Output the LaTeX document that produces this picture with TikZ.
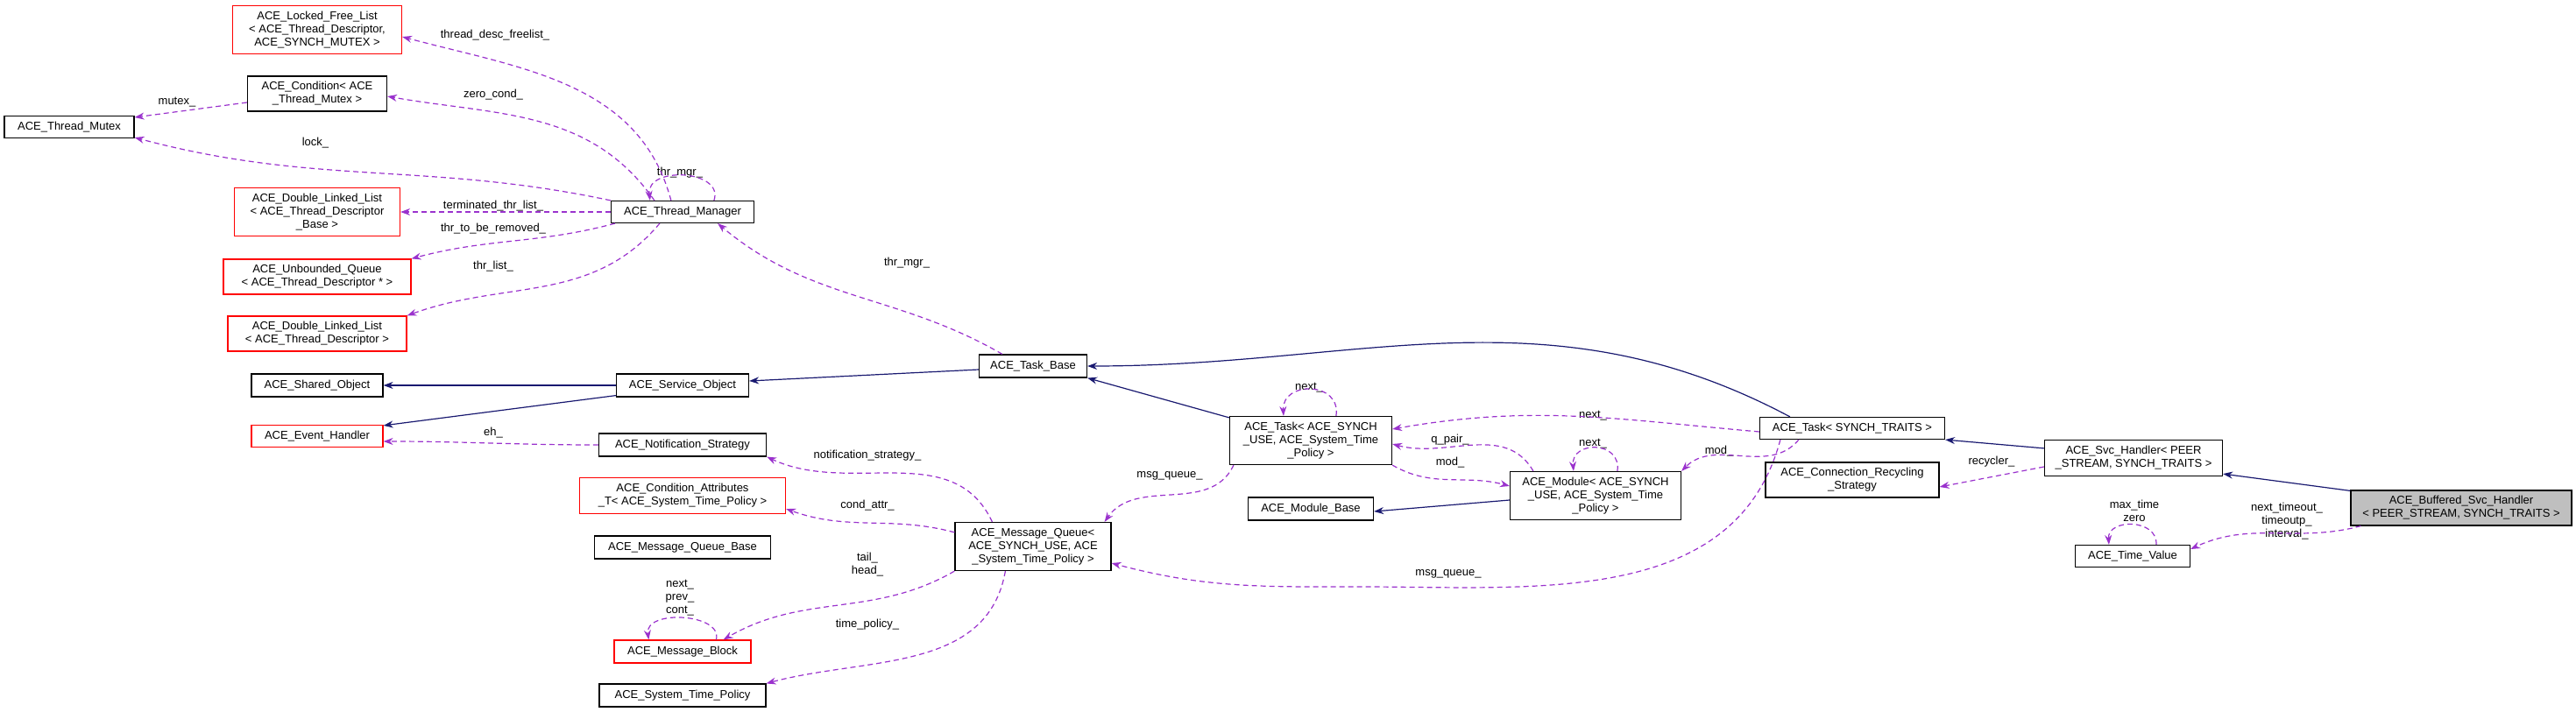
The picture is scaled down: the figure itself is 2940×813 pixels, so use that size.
\documentclass[tikz,border=0pt]{standalone}
\usepackage{fontspec}
\setmainfont{Liberation Sans}
\usetikzlibrary{arrows.meta,calc}
\definecolor{dep}{HTML}{9A32CD}
\definecolor{inh}{HTML}{191970}
\tikzset{
  box/.style={draw=black,line width=1.2pt,fill=white,align=center,inner sep=2pt,font=\fontsize{13}{15}\selectfont},
  redbox/.style={box,draw=red},
  graybox/.style={box,fill=black!25},
  lbl/.style={align=center,inner sep=0pt,font=\fontsize{13}{15}\selectfont},
  usage/.style={draw=dep,dashed,dash pattern=on 6pt off 4pt,line width=1.2pt,-{Stealth[length=11pt,width=8pt]}},
  inher/.style={draw=inh,line width=1.2pt,-{Stealth[length=11pt,width=8pt]}}
}
\newcommand{\bx}[7]{\node[#1,minimum width=#4pt,minimum height=#5pt] (#2) at (#3) {#6#7};}
\begin{document}
\begin{tikzpicture}[x=1pt,y=1pt]
\useasboundingbox (0,0) rectangle (2940,-813);
\bx{redbox}{LFL}{362,-34}{193}{55}{ACE\_Locked\_Free\_List\\ {}< ACE\_Thread\_Descriptor,\\ ACE\_SYNCH\_MUTEX >}{}
\bx{box}{Cond}{362,-107}{159}{40}{ACE\_Condition< ACE\\ \_Thread\_Mutex >}{}
\bx{box}{TMx}{79,-145}{148}{25}{ACE\_Thread\_Mutex}{}
\bx{redbox}{DLLB}{362,-242}{189}{55}{ACE\_Double\_Linked\_List\\ {}< ACE\_Thread\_Descriptor\\ \_Base >}{}
\bx{redbox}{UQ}{362,-316}{214}{40}{ACE\_Unbounded\_Queue\\ {}< ACE\_Thread\_Descriptor * >}{}
\bx{redbox}{DLLD}{362,-381}{204}{40}{ACE\_Double\_Linked\_List\\ {}< ACE\_Thread\_Descriptor >}{}
\bx{box}{TM}{779,-242}{163}{25}{ACE\_Thread\_Manager}{}
\bx{box}{Shared}{362,-440}{150}{26}{ACE\_Shared\_Object}{}
\bx{box}{SO}{779,-440}{151}{26}{ACE\_Service\_Object}{}
\bx{redbox}{EH}{362,-498}{150}{25}{ACE\_Event\_Handler}{}
\bx{box}{NS}{779,-508}{191}{26}{ACE\_Notification\_Strategy}{}
\bx{redbox}{CA}{779,-566}{235}{41}{ACE\_Condition\_Attributes\\ \_T< ACE\_System\_Time\_Policy >}{}
\bx{box}{MQB}{779,-625}{201}{26}{ACE\_Message\_Queue\_Base}{}
\bx{redbox}{MB}{779,-744}{156}{26}{ACE\_Message\_Block}{}
\bx{box}{STP}{779,-794}{190}{26}{ACE\_System\_Time\_Policy}{}
\bx{box}{MQ}{1179,-624}{178}{55}{ACE\_Message\_Queue<\\ ACE\_SYNCH\_USE, ACE\\ \_System\_Time\_Policy >}{}
\bx{box}{TB}{1179,-418}{123}{26}{ACE\_Task\_Base}{}
\bx{box}{TA}{1496,-503}{185}{55}{ACE\_Task< ACE\_SYNCH\\ \_USE, ACE\_System\_Time\\ \_Policy >}{}
\bx{box}{TST}{2114,-489}{211}{25}{ACE\_Task< SYNCH\_TRAITS >}{}
\bx{box}{Mod}{1821,-566}{195}{55}{ACE\_Module< ACE\_SYNCH\\ \_USE, ACE\_System\_Time\\ \_Policy >}{}
\bx{box}{ModB}{1496,-581}{143}{26}{ACE\_Module\_Base}{}
\bx{box}{CRS}{2114,-548}{198}{40}{ACE\_Connection\_Recycling\\ \_Strategy}{}
\bx{box}{SH}{2435,-523}{203}{41}{ACE\_Svc\_Handler< PEER\\ \_STREAM, SYNCH\_TRAITS >}{}
\bx{graybox}{BSH}{2809,-580}{252}{40}{ACE\_Buffered\_Svc\_Handler\\ {}< PEER\_STREAM, SYNCH\_TRAITS >}{}
\bx{box}{TV}{2434,-635}{131}{25}{ACE\_Time\_Value}{}
% labels
\node[lbl] (l1) at (565,-40) {thread\_desc\_freelist\_};
\node[lbl] (l2) at (563,-108) {zero\_cond\_};
\node[lbl] (l3) at (360,-163) {lock\_};
\node[lbl] (l4) at (202,-117) {mutex\_};
\node[lbl] (l5) at (563,-235) {terminated\_thr\_list\_};
\node[lbl] (l6) at (563,-261) {thr\_to\_be\_removed\_};
\node[lbl] (l7) at (563,-304) {thr\_list\_};
\node[lbl] (l8) at (776,-197) {thr\_mgr\_};
\node[lbl] (l9) at (1035,-300) {thr\_mgr\_};
\node[lbl] (l10) at (563,-494) {eh\_};
\node[lbl] (l11) at (990,-520) {notification\_strategy\_};
\node[lbl] (l12) at (990,-577) {cond\_attr\_};
\node[lbl] (l13) at (990,-645) {tail\_\\head\_};
\node[lbl] (l14) at (776,-683) {next\_\\prev\_\\cont\_};
\node[lbl] (l15) at (990,-713) {time\_policy\_};
\node[lbl] (l16) at (1335,-543) {msg\_queue\_};
\node[lbl] (l17) at (1653,-655) {msg\_queue\_};
\node[lbl] (l18) at (1494,-443) {next\_};
\node[lbl] (l19) at (1818,-475) {next\_};
\node[lbl] (l20) at (1655,-502) {q\_pair\_};
\node[lbl] (l21) at (1655,-528) {mod\_};
\node[lbl] (l22) at (1818,-507) {next\_};
\node[lbl] (l23) at (1962,-515) {mod\_};
\node[lbl] (l24) at (2273,-527) {recycler\_};
\node[lbl] (l25) at (2610,-595) {next\_timeout\_\\timeoutp\_\\interval\_};
\node[lbl] (l26) at (2436,-583) {max\_time\\zero};
% usage edges
\draw[usage] ($(TM.north west)+(69,0)$) to[out=105,in=-15] ($(LFL.east)+(0,-8)$);
\draw[usage] ($(TM.north west)+(50,0)$) to[out=125,in=-10] ($(Cond.east)+(0,-3)$);
\draw[usage] (TM.north west) to[out=168,in=-15] ($(TMx.east)+(0,-12)$);
\draw[usage] ($(Cond.west)+(0,-10)$) -- ($(TMx.east)+(0,11)$);
\draw[usage] (TM.west) -- (DLLB.east);
\draw[usage] ($(TM.south west)+(5,0)$) to[out=195,in=15] (UQ.north east);
\draw[usage] ($(TM.south west)+(56,0)$) to[out=-130,in=20] (DLLD.north east);
\draw[usage] ($(TM.north west)+(118,0)$) .. controls ($(TM.north west)+(130,35)$) and ($(TM.north west)+(40,40)$) .. ($(TM.north west)+(45,0)$);
\draw[usage] ($(TB.north west)+(27,0)$) to[out=150,in=-40] ($(TM.south east)+(-42,0)$);
\draw[usage] (NS.west) to[out=180,in=0] ($(EH.east)+(0,-6)$);
\draw[usage] ($(MQ.north west)+(43,0)$) to[out=115,in=-25] (NS.south east);
\draw[usage] ($(MQ.north west)+(0,-12)$) to[out=165,in=-20] ($(CA.east)+(0,-15)$);
\draw[usage] (MQ.south west) to[out=-150,in=30] ($(MB.north east)+(-32,0)$);
\draw[usage] ($(MB.north west)+(117,0)$) .. controls ($(MB.north west)+(125,30)$) and ($(MB.north west)+(35,35)$) .. ($(MB.north west)+(40,0)$);
\draw[usage] ($(MQ.south west)+(58,0)$) to[out=-100,in=15] (STP.north east);
\draw[usage] ($(TA.south west)+(5,0)$) to[out=-115,in=55] ($(MQ.north east)+(-8,0)$);
\draw[usage] ($(TST.south west)+(24,0)$) to[out=-105,in=0] ($(l17)+(-100,-15)$) to[out=180,in=-15] ($(MQ.east)+(0,-19)$);
\draw[usage] ($(TA.north west)+(122,0)$) .. controls ($(TA.north west)+(128,40)$) and ($(TA.north west)+(60,40)$) .. ($(TA.north west)+(62,0)$);
\draw[usage] ($(TST.west)+(0,-4)$) to[out=175,in=10] ($(TA.east)+(0,13)$);
\draw[usage] ($(Mod.north west)+(27,0)$) to[out=120,in=-15] ($(TA.east)+(0,-4)$);
\draw[usage] (TA.south east) to[out=-30,in=165] ($(Mod.west)+(0,11)$);
\draw[usage] ($(Mod.north west)+(123,0)$) .. controls ($(Mod.north west)+(128,35)$) and ($(Mod.north west)+(70,35)$) .. ($(Mod.north west)+(73,0)$);
\draw[usage] ($(TST.south west)+(45,0)$) to[out=-130,in=45] (Mod.north east);
\draw[usage] ($(SH.west)+(0,-10)$) -- ($(CRS.east)+(0,-8)$);
\draw[usage] ($(BSH.south west)+(12,0)$) to[out=195,in=25] ($(TV.east)+(0,8)$);
\draw[usage] ($(TV.north west)+(93,0)$) .. controls ($(TV.north west)+(95,30)$) and ($(TV.north west)+(37,30)$) .. ($(TV.north west)+(39,0)$);
% inheritance edges
\draw[inher] (SO.west) -- (Shared.east);
\draw[inher] ($(SO.south west)+(0,2)$) -- ($(EH.north east)+(0,-1)$);
\draw[inher] ($(TB.west)+(0,-4)$) -- ($(SO.east)+(0,5)$);
\draw[inher] ($(TA.north west)+(0,-2)$) -- (TB.south east);
\draw[inher] ($(TST.north west)+(35,0)$) to[out=152,in=0] (TB.east);
\draw[inher] ($(Mod.west)+(0,-5)$) -- ($(ModB.east)+(0,-3)$);
\draw[inher] ($(SH.north west)+(0,-10)$) -- (TST.south east);
\draw[inher] ($(BSH.north west)+(0,-1)$) -- ($(SH.south east)+(0,3)$);
\end{tikzpicture}
\end{document}
